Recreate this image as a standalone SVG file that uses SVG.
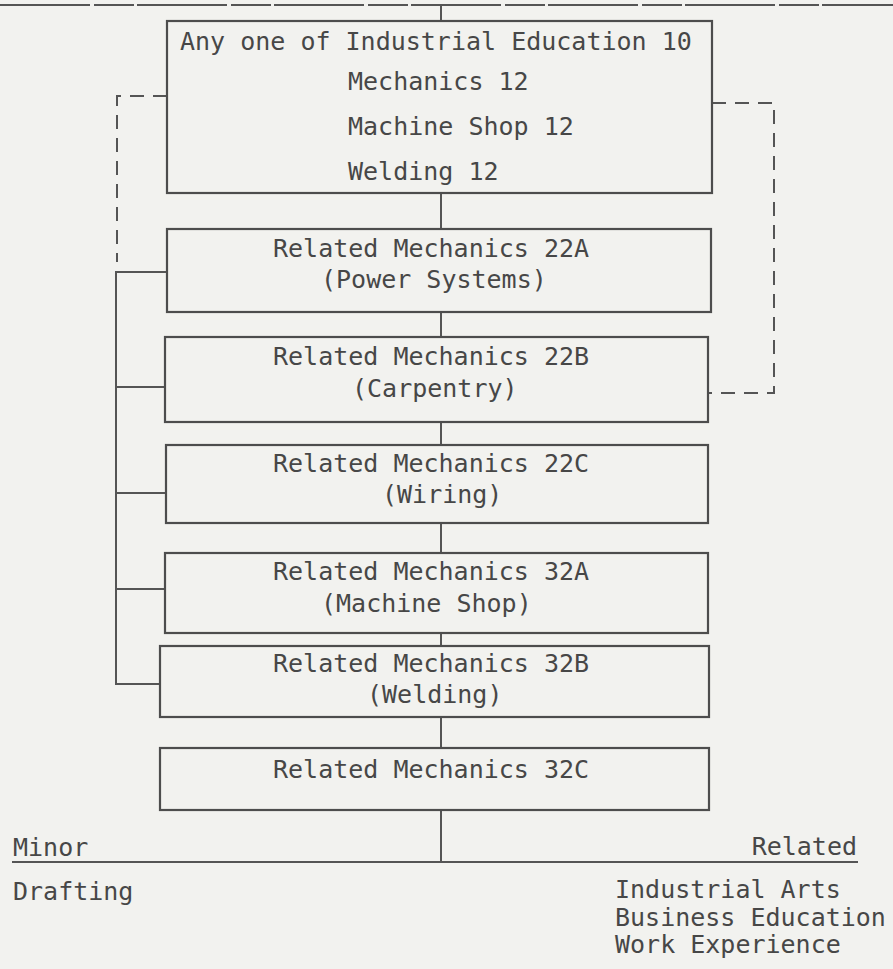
<svg xmlns="http://www.w3.org/2000/svg" width="893" height="969" viewBox="0 0 893 969">
<style>
  .bg{fill:#f2f2ef}
  .box{fill:none;stroke:#4d4d4d;stroke-width:2.2}
  .ln{fill:none;stroke:#555;stroke-width:2}
  .dash{fill:none;stroke:#555;stroke-width:2;stroke-dasharray:14 9}
  text{font-family:"DejaVu Sans Mono","Liberation Mono",monospace;font-size:25px;fill:#474747}
</style>
<rect class="bg" x="0" y="0" width="893" height="969"/>
<g id="connectors">
  <line class="ln" x1="0" y1="5" x2="893" y2="5" stroke-dasharray="90 4 40 3"/>
  <line class="ln" x1="441" y1="5" x2="441" y2="21"/>
  <line class="ln" x1="441" y1="193" x2="441" y2="229"/>
  <line class="ln" x1="441" y1="312" x2="441" y2="337"/>
  <line class="ln" x1="441" y1="422" x2="441" y2="445"/>
  <line class="ln" x1="441" y1="523" x2="441" y2="553"/>
  <line class="ln" x1="441" y1="633" x2="441" y2="646"/>
  <line class="ln" x1="441" y1="717" x2="441" y2="748"/>
  <line class="ln" x1="441" y1="810" x2="441" y2="862"/>
  <line class="ln" x1="12" y1="862" x2="858" y2="862"/>
  <path class="ln" d="M167,272 H116 V684 H160 M116,387 H165 M116,493 H166 M116,589 H165"/>
  <path class="dash" d="M167,96 H117 V262"/>
  <path class="dash" d="M712,103 H774 V393 H708"/>
</g>
<g id="n1">
  <rect class="box" x="167" y="21" width="545" height="172"/>
  <text x="180" y="50">Any one of Industrial Education 10</text>
  <text x="348" y="90">Mechanics 12</text>
  <text x="348" y="135">Machine Shop 12</text>
  <text x="348" y="180">Welding 12</text>
</g>
<g id="n22a">
  <rect class="box" x="167" y="229" width="544" height="83"/>
  <text x="273" y="257">Related Mechanics 22A</text>
  <text x="321" y="288">(Power Systems)</text>
</g>
<g id="n22b">
  <rect class="box" x="165" y="337" width="543" height="85"/>
  <text x="273" y="365">Related Mechanics 22B</text>
  <text x="352" y="397">(Carpentry)</text>
</g>
<g id="n22c">
  <rect class="box" x="166" y="445" width="542" height="78"/>
  <text x="273" y="472">Related Mechanics 22C</text>
  <text x="382" y="503">(Wiring)</text>
</g>
<g id="n32a">
  <rect class="box" x="165" y="553" width="543" height="80"/>
  <text x="273" y="580">Related Mechanics 32A</text>
  <text x="321" y="612">(Machine Shop)</text>
</g>
<g id="n32b">
  <rect class="box" x="160" y="646" width="549" height="71"/>
  <text x="273" y="672">Related Mechanics 32B</text>
  <text x="367" y="703">(Welding)</text>
</g>
<g id="n32c">
  <rect class="box" x="160" y="748" width="549" height="62"/>
  <text x="273" y="778">Related Mechanics 32C</text>
</g>
<g id="minor">
  <text x="13" y="856">Minor</text>
  <text x="13" y="900">Drafting</text>
</g>
<g id="related">
  <text x="857" y="855" text-anchor="end">Related</text>
  <text x="615" y="898">Industrial Arts</text>
  <text x="615" y="926">Business Education</text>
  <text x="615" y="953">Work Experience</text>
</g>
</svg>
